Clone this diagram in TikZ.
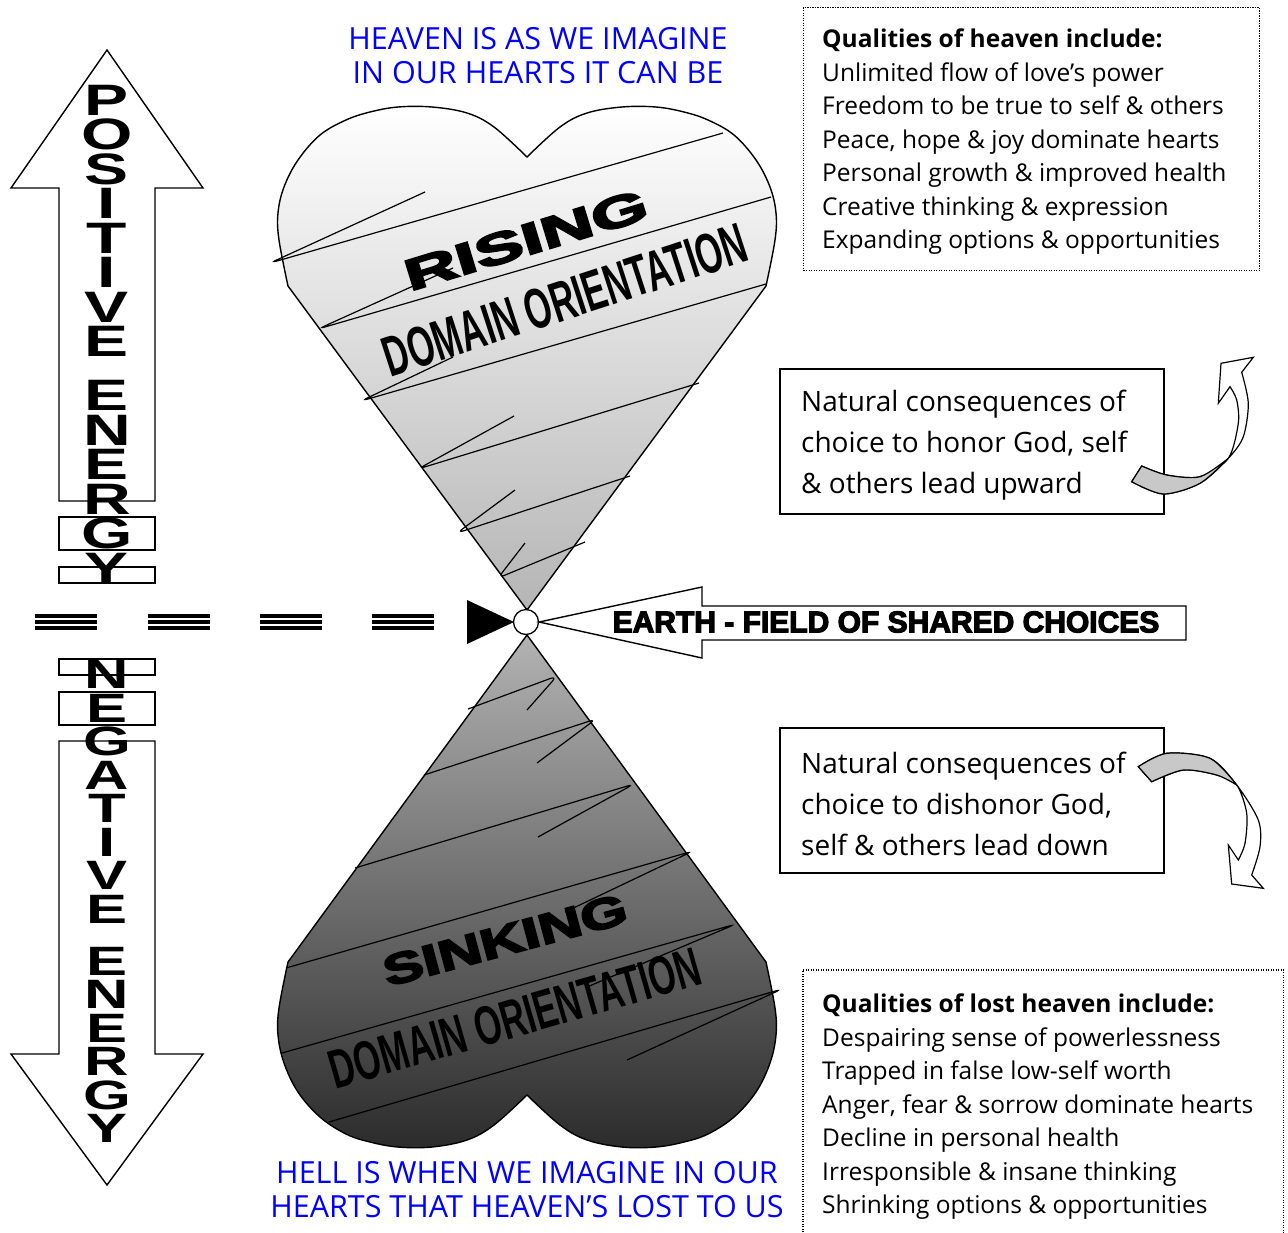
\documentclass[tikz,border=0pt]{standalone}
\usepackage{fontspec}
\usepackage{graphicx}
\setmainfont{Open Sans}
\newfontfamily\arialf{Liberation Sans}
\newfontfamily\arialw{Liberation Sans}[FakeStretch=1.5]
\newfontfamily\heavyf{Liberation Sans}[BoldFeatures={FakeBold=4}]
\definecolor{agray}{RGB}{200,200,200}
\definecolor{txtblue}{RGB}{0,0,255}
\begin{document}
\begin{tikzpicture}[x=1pt,y=-1pt,
  outl/.style={draw=black, line width=1.4pt, line join=miter},
  spiral/.style={draw=black, line width=1.2pt, rounded corners=7pt},
  vletp/.style={font=\arialw\bfseries\fontsize{44}{34.5}\selectfont, align=center, inner sep=0pt},
  vletn/.style={font=\arialw\bfseries\fontsize{41}{33.5}\selectfont, align=center, inner sep=0pt},
  bluetxt/.style={text=txtblue, align=center, inner sep=0pt, font=\fontsize{30.5}{34}\selectfont},
  qtxt/.style={anchor=west, align=left, inner sep=0pt, font=\fontsize{24.5}{33.5}\selectfont},
  dotbox/.style={draw=black, line width=1.2pt, dash pattern=on 1.2pt off 1.3pt, anchor=north west, inner sep=0pt},
  solidbox/.style={draw=black, line width=1.6pt, anchor=north west, inner sep=0pt, minimum width=384pt, minimum height=145pt},
  ctxt/.style={anchor=west, align=left, inner sep=0pt, font=\fontsize{28}{41}\selectfont},
  hearttxt/.style={inner sep=0pt, text=black}
]
\fill[white] (0,0) rectangle (1288,1232);
\path[use as bounding box] (0,0) rectangle (1288,1232);

% ---------- vertical arrows ----------
\draw[outl, fill=white] (107,50) -- (203,188) -- (155,188) -- (155,501) -- (59,501) -- (59,188) -- (11,188) -- cycle;
\draw[outl] (59,517) rectangle (155,550);
\draw[outl] (59,567) rectangle (155,583);
\node[vletp] (posA) at (107,221) {P\\O\\S\\I\\T\\I\\V\\E};
\node[vletp] (posB) at (107,482) {E\\N\\E\\R\\G\\Y};

\draw[outl] (59,659) rectangle (155,675);
\draw[outl] (59,692) rectangle (155,725);
\draw[outl, fill=white] (59,741) -- (155,741) -- (155,1054) -- (203,1054) -- (107,1185) -- (11,1054) -- (59,1054) -- cycle;
\node[vletn] (negA) at (107,792) {N\\E\\G\\A\\T\\I\\V\\E};
\node[vletn] (negB) at (107,1045) {E\\N\\E\\R\\G\\Y};

% ---------- dashes ----------
\foreach \a/\b in {35/97,148/210,260/322,372/434}{
  \foreach \yy in {616,622,628}{
    \draw[line width=3.3pt] (\a,\yy) -- (\b,\yy);
  }
}

% ---------- hearts ----------
\path[draw=black, line width=1.4pt, top color=white, bottom color=black!29]
  (527,610) -- plot[smooth, tension=0.6] coordinates {(288,286) (279,240) (278,213) (284,187) (298,160) (320,135) (346,120) (370,112) (398,107) (432,107) (467,113) (494,127) (527,157)}
  -- plot[smooth, tension=0.6] coordinates {(527,157) (560,127) (587,113) (622,107) (656,107) (684,112) (708,120) (734,135) (756,160) (770,187) (776,213) (775,240) (766,286)}
  -- cycle;
\path[draw=black, line width=1.4pt, top color=black!30, bottom color=black!83]
  (527,635) -- plot[smooth, tension=0.6] coordinates {(288,962) (279,1008) (278,1035) (284,1063) (298,1092) (320,1117) (346,1134) (370,1142) (398,1147) (432,1147) (467,1140) (494,1125) (527,1095)}
  -- plot[smooth, tension=0.6] coordinates {(527,1095) (560,1125) (587,1140) (622,1147) (656,1147) (684,1142) (708,1134) (734,1117) (756,1092) (770,1063) (776,1035) (775,1008) (766,962)}
  -- cycle;

% spiral strokes, top heart
\draw[spiral] (723,133) -- (270,263) -- (425,192);
\draw[spiral] (771,197) -- (318,329) -- (453,268);
\draw[spiral] (766,284) -- (361,401) -- (453,357);
\draw[spiral] (699,383) -- (418,469) -- (514,416);
\draw[spiral] (630,476) -- (457,533) -- (515,490);
\draw[spiral] (585,542) -- (498,578) -- (525,543);
% spiral strokes, bottom heart
\draw[spiral] (468,709) -- (557,676) -- (527,710);
\draw[spiral] (424,775) -- (596,719) -- (537,763);
\draw[spiral] (355,868) -- (634,784) -- (538,837);
\draw[spiral] (286,968) -- (693,851) -- (565,912);
\draw[spiral] (282,1053) -- (736,924) -- (587,987);
\draw[spiral] (329,1122) -- (782,989) -- (627,1060);

% heart texts
\node[hearttxt, rotate=17] (rising) at (526,240) {\scalebox{1.66}[1]{\heavyf\bfseries\fontsize{44}{44}\selectfont RISING}};
\node[hearttxt, rotate=18] (domA) at (565,300) {\scalebox{0.6}[1]{\arialf\bfseries\fontsize{57}{57}\selectfont DOMAIN ORIENTATION}};
\node[hearttxt, rotate=15] (sinking) at (505,940) {\scalebox{1.4}[1]{\heavyf\bfseries\fontsize{43}{43}\selectfont SINKING}};
\node[hearttxt, rotate=16] (domB) at (515,1018) {\scalebox{0.63}[1]{\arialf\bfseries\fontsize{55}{55}\selectfont DOMAIN ORIENTATION}};

% ---------- earth ----------
\fill[black] (467,600) -- (514,622) -- (467,644) -- cycle;
\node[circle, draw=black, fill=white, line width=1.3pt, minimum size=25pt, inner sep=0pt] (earthpt) at (526,622) {};
\draw[outl, fill=white] (earthpt.east) -- (702,587) -- (702,606) -- (1186,606) -- (1186,640) -- (702,640) -- (702,658) -- cycle;
\node[inner sep=0pt, font=\heavyf\bfseries\fontsize{30}{30}\selectfont] (earthtxt) at (886,622) {EARTH - FIELD OF SHARED CHOICES};

% ---------- blue texts ----------
\node[bluetxt] (heaventxt) at (538,56) {HEAVEN IS AS WE IMAGINE\\IN OUR HEARTS IT CAN BE};
\node[bluetxt] (helltxt) at (527,1190) {HELL IS WHEN WE IMAGINE IN OUR\\HEARTS THAT HEAVEN'S LOST TO US};

% ---------- quality boxes ----------
\node[dotbox, minimum width=456pt, minimum height=263pt] (hbox) at (803,7) {};
\node[qtxt] (htext) at (822,142) {\textbf{Qualities of heaven include:}\\Unlimited flow of love's power\\Freedom to be true to self \& others\\Peace, hope \& joy dominate hearts\\Personal growth \& improved health\\Creative thinking \& expression\\Expanding options \& opportunities};

\node[anchor=north west, inner sep=0pt, minimum width=480pt, minimum height=262pt] (lbox) at (803,970) {};
\draw[line width=1.2pt, dash pattern=on 1.2pt off 1.3pt] (lbox.south west) |- (lbox.north east) -- (lbox.south east);
\node[qtxt] (ltext) at (822,1107) {\textbf{Qualities of lost heaven include:}\\Despairing sense of powerlessness\\Trapped in false low-self worth\\Anger, fear \& sorrow dominate hearts\\Decline in personal health\\Irresponsible \& insane thinking\\Shrinking options \& opportunities};

% ---------- consequence boxes ----------
\node[solidbox] (upbox) at (779,368) {};
\node[ctxt] (uptext) at (801,445) {Natural consequences of\\choice to honor God, self\\\& others lead upward};
\node[solidbox] (downbox) at (779,727) {};
\node[ctxt] (downtext) at (801,804) {Natural consequences of\\choice to dishonor God,\\self \& others lead down};

% ---------- curved arrows ----------
\draw[line width=1.2pt, fill=white, line join=miter]
  plot[smooth] coordinates {(1131.7,481.7) (1163.3,494) (1200,483.3) (1228.3,458.3) (1243.3,436.7) (1248.3,403.3) (1241.7,372.3)}
  -- (1253.3,357.3) -- (1221,363.3) -- (1218.3,403.3) --
  plot[smooth] coordinates {(1230,386.7) (1236.7,400) (1238.3,423.3) (1228.3,458.3) (1200,476.7) (1166.7,475) (1141.7,466)}
  -- cycle;
\draw[line width=1.2pt, fill=agray]
  plot[smooth] coordinates {(1131.7,481.7) (1163.3,494) (1200,483.3) (1228.3,458.3)}
  -- plot[smooth] coordinates {(1228.3,458.3) (1200,476.7) (1166.7,475) (1141.7,466)} -- cycle;

\draw[line width=1.2pt, fill=white, line join=miter]
  plot[smooth] coordinates {(1138.3,766.7) (1166.7,753.3) (1210,758.3) (1236.7,785) (1258.3,820) (1260,846.7) (1251.7,875)}
  -- (1263.3,888.3) -- (1231.7,884) -- (1228.3,845) --
  plot[smooth] coordinates {(1238.3,860) (1245,843.3) (1246.7,813.3) (1236.7,785) (1216.7,775) (1183.3,770) (1151.7,781.7)}
  -- cycle;
\draw[line width=1.2pt, fill=agray]
  plot[smooth] coordinates {(1138.3,766.7) (1166.7,753.3) (1210,758.3) (1236.7,785)}
  -- plot[smooth] coordinates {(1236.7,785) (1216.7,775) (1183.3,770) (1151.7,781.7)} -- cycle;

\end{tikzpicture}
\end{document}
